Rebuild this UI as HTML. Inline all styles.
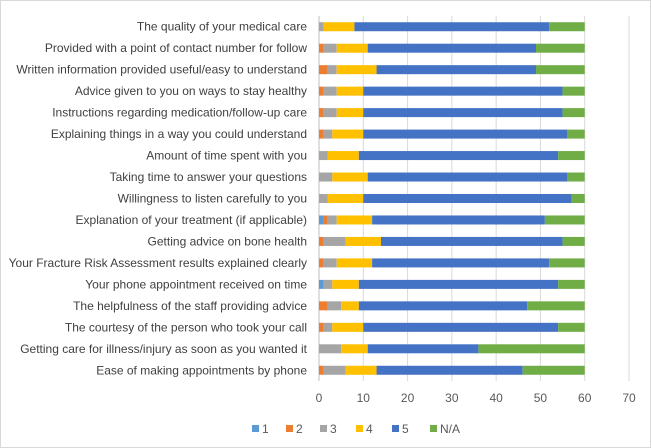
<!DOCTYPE html>
<html><head><meta charset="utf-8"><style>
body{margin:0;background:#fff}
svg{display:block;font-family:"Liberation Sans",sans-serif}
</style></head><body>
<svg id="c" width="651" height="448">
<rect x="0.5" y="0.5" width="650" height="447" fill="#fff" stroke="#d9d9d9"/>
</svg>
<script>
const categories=["The quality of your medical care","Provided with a point of contact number for follow","Written information provided useful/easy to understand","Advice given to you on ways to stay healthy","Instructions regarding medication/follow-up care","Explaining things in a way you could understand","Amount of time spent with you","Taking time to answer your questions","Willingness to listen carefully to you","Explanation of your treatment (if applicable)","Getting advice on bone health","Your Fracture Risk Assessment results explained clearly","Your phone appointment received on time","The helpfulness of the staff providing advice","The courtesy of the person who took your call","Getting care for illness/injury as soon as you wanted it","Ease of making appointments by phone"];
const s1=[0,0,0,0,0,0,0,0,0,1,0,0,1,0,0,0,0];
const s2=[0,1,2,1,1,1,0,0,0,1,1,1,0,2,1,0,1];
const s3=[1,3,2,3,3,2,2,3,2,2,5,3,2,3,2,5,5];
const s4=[7,7,9,6,6,7,7,8,8,8,8,8,6,4,7,6,7];
const s5=[44,38,36,45,45,46,45,45,47,39,41,40,45,38,44,25,33];
const sNA=[8,11,11,5,5,4,6,4,3,9,5,8,6,13,6,24,14];
const seriesNames=["1","2","3","4","5","N/A"];
const ticks=[0,10,20,30,40,50,60,70];
const colors=["#5b9bd5","#ed7d31","#a5a5a5","#ffc000","#4472c4","#70ad47"];
const series=[s1,s2,s3,s4,s5,sNA];
const NS="http://www.w3.org/2000/svg";
const svg=document.getElementById('c');
const x0=319,pxPer=310/70,yTop=16,yBot=381,rowH=(yBot-yTop)/categories.length,barH=9;
const X=v=>x0+v*pxPer;
const Y=i=>yTop+rowH*(i+0.5);
function mk(t,a){const e=document.createElementNS(NS,t);for(const k in a)e.setAttribute(k,a[k]);svg.appendChild(e);return e;}
ticks.forEach(t=>{
 const g=mk('line',{x1:X(t),x2:X(t),y1:yTop,y2:yBot,stroke:t===0?'#bfbfbf':'#d9d9d9','stroke-width':1});
 
 
 const l=mk('text',{x:X(t),y:402,'text-anchor':'middle','font-size':12,fill:'#595959'});l.textContent=t;
 
 
});
categories.forEach((c,i)=>{
 const l=mk('text',{x:307,y:Y(i)+4,'text-anchor':'end','font-size':12,fill:'#404040'});l.textContent=c;
 
 
 let acc=0;
 series.forEach((s,k)=>{
  const v=s[i];
  if(v>0){const r=mk('rect',{x:X(acc),y:Y(i)-barH/2,width:v*pxPer,height:barH,fill:colors[k]});
   
   }
  acc+=v;
 });
});
const lx=[252,286,320,356,392,430];
seriesNames.forEach((n,k)=>{
 const r=mk('rect',{x:lx[k],y:425,width:7,height:7,fill:colors[k]});
 
 
 const t=mk('text',{x:lx[k]+10,y:433,'font-size':12,fill:'#595959'});t.textContent=n;
 
 
});
</script>
</body></html>
